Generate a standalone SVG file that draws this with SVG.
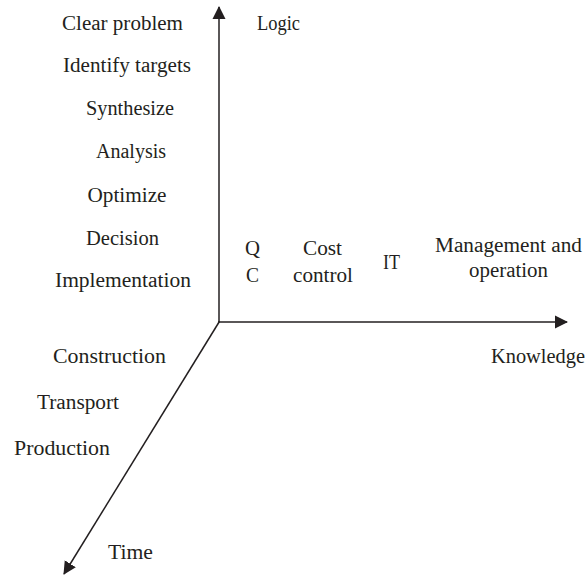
<svg xmlns="http://www.w3.org/2000/svg" width="587" height="578" viewBox="0 0 587 578">
<defs>
<marker id="ah" markerWidth="14" markerHeight="14" refX="12" refY="7" orient="auto" markerUnits="userSpaceOnUse">
<path d="M0,0.5 L13,7 L0,13.5 Z" fill="#231f20"/>
</marker>
<style>
text{font-family:"Liberation Serif","Times New Roman",serif;font-size:20px;fill:#231f20}
.ax{stroke:#231f20;stroke-width:1.5;fill:none}
</style>
</defs>
<rect width="587" height="578" fill="#fff"/>
<g id="connectors">
<line class="ax" x1="219" y1="322" x2="219" y2="7" marker-end="url(#ah)"/>
<line class="ax" x1="218.3" y1="322" x2="567" y2="322" marker-end="url(#ah)"/>
<line class="ax" x1="219.4" y1="321.5" x2="64" y2="574" marker-end="url(#ah)"/>
</g>
<g id="logic-labels">
<text id="clear" x="62" y="30" textLength="121" lengthAdjust="spacingAndGlyphs">Clear problem</text>
<text id="identify" x="63" y="72" textLength="128" lengthAdjust="spacingAndGlyphs">Identify targets</text>
<text id="synth" x="86" y="115" textLength="88" lengthAdjust="spacingAndGlyphs">Synthesize</text>
<text id="analysis" x="96" y="158" textLength="70" lengthAdjust="spacingAndGlyphs">Analysis</text>
<text id="optimize" x="87.5" y="202" textLength="79" lengthAdjust="spacingAndGlyphs">Optimize</text>
<text id="decision" x="86" y="245" textLength="73" lengthAdjust="spacingAndGlyphs">Decision</text>
<text id="impl" x="55" y="287" textLength="136" lengthAdjust="spacingAndGlyphs">Implementation</text>
</g>
<g id="axis-logic"><text x="257" y="29.5" textLength="43" lengthAdjust="spacingAndGlyphs">Logic</text></g>
<g id="qc">
<text x="245" y="255" textLength="15" lengthAdjust="spacingAndGlyphs">Q</text>
<text x="246" y="282" textLength="13" lengthAdjust="spacingAndGlyphs">C</text>
</g>
<g id="cost">
<text x="303" y="255" textLength="39" lengthAdjust="spacingAndGlyphs">Cost</text>
<text x="293" y="282" textLength="60" lengthAdjust="spacingAndGlyphs">control</text>
</g>
<g id="it"><text x="383" y="269" textLength="17" lengthAdjust="spacingAndGlyphs">IT</text></g>
<g id="mgmt">
<text x="435" y="252" textLength="147" lengthAdjust="spacingAndGlyphs">Management and</text>
<text x="469" y="276.5" textLength="79" lengthAdjust="spacingAndGlyphs">operation</text>
</g>
<g id="axis-knowledge"><text x="491" y="363" textLength="94" lengthAdjust="spacingAndGlyphs">Knowledge</text></g>
<g id="time-labels">
<text x="53" y="363" textLength="113" lengthAdjust="spacingAndGlyphs">Construction</text>
<text x="37" y="409" textLength="82" lengthAdjust="spacingAndGlyphs">Transport</text>
<text x="14" y="455" textLength="96" lengthAdjust="spacingAndGlyphs">Production</text>
</g>
<g id="axis-time"><text x="108" y="559" textLength="45" lengthAdjust="spacingAndGlyphs">Time</text></g>
</svg>
